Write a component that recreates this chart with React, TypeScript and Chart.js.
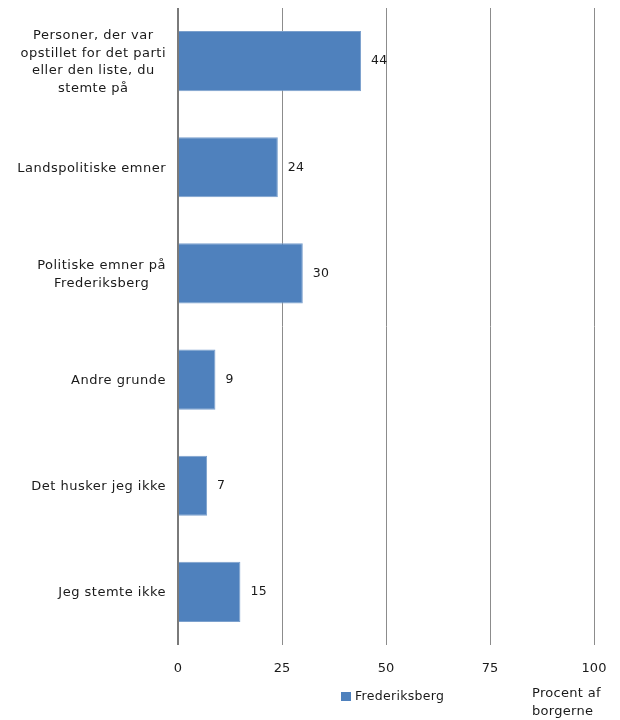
import React, { useEffect, useRef } from "react";
import { Chart, registerables } from "chart.js";

Chart.register(...registerables);

const categories: (string | string[])[] = [
  ["Personer, der var", "opstillet for det parti", "eller den liste, du", "stemte på"],
  "Landspolitiske emner",
  ["Politiske emner på", "Frederiksberg"],
  "Andre grunde",
  "Det husker jeg ikke",
  "Jeg stemte ikke",
];
const values = [44, 24, 30, 9, 7, 15];
const seriesLabel = "Frederiksberg";
const axisNote = ["Procent af", "borgerne"];
const xTicks = [0, 25, 50, 75, 100];

const FONT = "'DejaVu Sans', Verdana, sans-serif";

const customPlugin = {
  id: "custom",
  afterDraw(chart: any) {
    const ctx = chart.ctx;
    const y = chart.scales.y;
    ctx.save();
    ctx.fillStyle = "#1a1a1a";
    ctx.font = `13px ${FONT}`;
    (ctx as any).letterSpacing = "0.5px";
    ctx.textBaseline = "middle";
    ctx.textAlign = "center";
    const rightEdge = 166;
    const lh = 17.7;
    categories.forEach((lab, i) => {
      const lines = Array.isArray(lab) ? lab : [lab];
      const widths = lines.map((l) => ctx.measureText(l).width);
      const maxW = Math.max(...widths);
      const cx = rightEdge - maxW / 2;
      const cy = y.getPixelForTick(i) + 1;
      lines.forEach((l, j) => {
        ctx.fillText(l, cx, cy + (j - (lines.length - 1) / 2) * lh);
      });
    });
    // data labels
    ctx.textAlign = "left";
    ctx.font = `12.5px ${FONT}`;
    (ctx as any).letterSpacing = "0.3px";
    const meta = chart.getDatasetMeta(0);
    meta.data.forEach((el: any, i: number) => {
      ctx.fillText(String(values[i]), el.x + 10, el.y);
    });
    // legend
    const ds = chart.data.datasets[0];
    ctx.fillStyle = ds.backgroundColor;
    ctx.fillRect(341, 692, 10, 9);
    ctx.fillStyle = "#1a1a1a";
    ctx.font = `12.5px ${FONT}`;
    ctx.fillText(ds.label, 355, 697);
    // axis note
    ctx.font = `13px ${FONT}`;
    ctx.fillText(axisNote[0], 532, 694);
    ctx.fillText(axisNote[1], 532, 712);
    ctx.restore();
  },
};

export default function App() {
  const ref = useRef<HTMLCanvasElement>(null);
  useEffect(() => {
    document.body.style.margin = "0";
    const chart = new Chart(ref.current!, {
      type: "bar",
      data: {
        labels: categories as any,
        datasets: [
          {
            label: seriesLabel,
            data: values,
            backgroundColor: "#4F81BD",
            borderColor: "#7BA0CD",
            borderWidth: 1,
            barPercentage: 0.566,
            categoryPercentage: 1,
          },
        ],
      },
      options: {
        indexAxis: "y",
        responsive: false,
        animation: false,
        layout: { padding: { top: 8, right: 26, left: 0, bottom: 35 } },
        plugins: { legend: { display: false }, tooltip: { enabled: false } },
        scales: {
          x: {
            min: 0,
            max: 100,
            afterBuildTicks: (s: any) => {
              s.ticks = xTicks.map((v) => ({ value: v }));
            },
            afterFit: (s: any) => {
              s.height = 40;
              s.paddingLeft = 0;
              s.paddingRight = 0;
            },
            grid: {
              drawTicks: false,
              color: (c: any) => (c.tick && c.tick.value === 0 ? "#7a7a7a" : "#8c8c8c"),
              lineWidth: (c: any) => (c.tick && c.tick.value === 0 ? 2 : 1),
            },
            border: { display: false },
            ticks: {
              padding: 16,
              color: "#1a1a1a",
              font: { family: FONT, size: 13 },
            },
          },
          y: {
            afterFit: (s: any) => {
              s.width = 178;
              s.paddingTop = 0;
              s.paddingBottom = 0;
            },
            grid: { display: false },
            border: { display: false },
            ticks: { display: false },
          },
        },
      },
      plugins: [customPlugin],
    });
    return () => chart.destroy();
  }, []);
  return (
    <div style={{ width: 620, height: 720 }}>
      <canvas ref={ref} width={620} height={720} />
    </div>
  );
}
